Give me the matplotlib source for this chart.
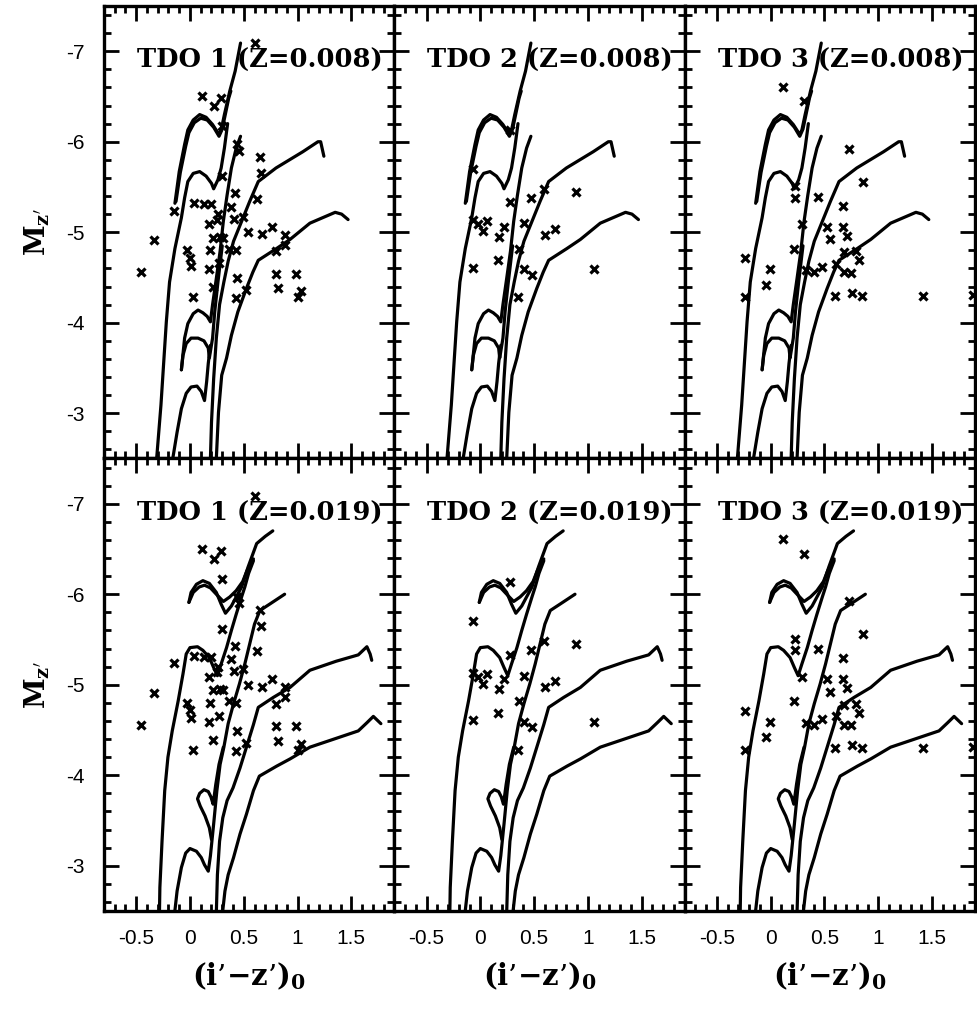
import numpy as np
import matplotlib
matplotlib.use("Agg")
import matplotlib.pyplot as plt
from matplotlib.ticker import MultipleLocator, FormatStrFormatter

plt.rcParams['axes.unicode_minus'] = False
plt.rcParams['mathtext.fontset'] = 'dejavuserif'

# ---- isochrones, Z=0.008 (top row) ----
z008_a_x = [-0.32, -0.31, -0.27, -0.22, -0.19, -0.14, -0.08, -0.05, -0.02, 0.03, 0.09, 0.15, 0.20, 0.22, 0.26, 0.29, 0.32, 0.35]
z008_a_y = [-2.4, -2.5, -3.09, -4.01, -4.45, -4.82, -5.16, -5.38, -5.56, -5.65, -5.67, -5.62, -5.54, -5.48, -5.58, -5.71, -5.93, -6.20]
z008_b1_x = [-0.14, -0.10, -0.05, -0.02, 0.03, 0.09, 0.15, 0.21, 0.27, 0.29, 0.32, 0.37, 0.42, 0.47]
z008_b1_y = [-5.32, -5.67, -5.97, -6.13, -6.24, -6.30, -6.27, -6.19, -6.08, -6.13, -6.30, -6.56, -6.78, -7.09]
z008_b2_x = [-0.13, -0.09, -0.04, -0.01, 0.04, 0.10, 0.16, 0.22, 0.27, 0.30, 0.33, 0.36, 0.38]
z008_b2_y = [-5.34, -5.66, -5.95, -6.10, -6.21, -6.26, -6.24, -6.16, -6.06, -6.14, -6.31, -6.48, -6.56]
z008_c1_x = [-0.08, -0.05, -0.02, 0.03, 0.075, 0.12, 0.16, 0.19, 0.21, 0.245, 0.28, 0.31, 0.345, 0.385, 0.43, 0.47]
z008_c1_y = [-3.48, -3.83, -3.99, -4.10, -4.14, -4.11, -4.07, -4.01, -4.20, -4.49, -4.79, -5.12, -5.41, -5.71, -5.93, -6.06]
z008_c2_x = [-0.08, -0.065, -0.035, 0.01, 0.075, 0.13, 0.17, 0.18, 0.21, 0.23, 0.26, 0.30]
z008_c2_y = [-3.48, -3.64, -3.77, -3.83, -3.83, -3.80, -3.72, -3.61, -3.83, -4.12, -4.45, -4.85]
z008_d_x = [-0.17, -0.16, -0.12, -0.08, -0.035, 0.01, 0.065, 0.105, 0.135, 0.155, 0.17, 0.19]
z008_d_y = [-2.4, -2.5, -2.79, -3.05, -3.22, -3.29, -3.30, -3.24, -3.14, -3.35, -3.55, -3.75]
z008_e_x = [0.188, 0.19, 0.20, 0.22, 0.245, 0.275, 0.315, 0.355, 0.405, 0.48, 0.555, 0.635, 0.80, 1.05, 1.19, 1.215, 1.245]
z008_e_y = [-2.4, -2.5, -2.90, -3.38, -3.83, -4.20, -4.45, -4.68, -4.90, -5.12, -5.34, -5.56, -5.71, -5.89, -6.00, -6.00, -5.84]
z008_f_x = [0.243, 0.245, 0.265, 0.295, 0.34, 0.385, 0.445, 0.525, 0.585, 0.635, 0.805, 0.93, 1.115, 1.35, 1.41, 1.47]
z008_f_y = [-2.4, -2.5, -3.01, -3.42, -3.61, -3.86, -4.12, -4.38, -4.56, -4.69, -4.82, -4.92, -5.10, -5.22, -5.20, -5.14]

# ---- isochrones, Z=0.019 (bottom row) ----
z019_g1_x = [-0.01, 0.01, 0.06, 0.12, 0.18, 0.245, 0.29, 0.33, 0.385, 0.43, 0.48, 0.51, 0.54, 0.58, 0.62, 0.70, 0.77]
z019_g1_y = [-5.91, -6.02, -6.11, -6.15, -6.12, -6.02, -5.89, -5.79, -5.87, -5.97, -6.08, -6.19, -6.30, -6.43, -6.56, -6.64, -6.70]
z019_g2_x = [-0.01, 0.03, 0.085, 0.135, 0.19, 0.245, 0.31, 0.37, 0.43, 0.49, 0.53, 0.59]
z019_g2_y = [-5.91, -6.02, -6.08, -6.10, -6.07, -6.00, -5.92, -5.97, -6.04, -6.14, -6.26, -6.39]
z019_h_x = [-0.285, -0.28, -0.26, -0.235, -0.205, -0.165, -0.11, -0.065, -0.035, 0.0, 0.07, 0.12, 0.18, 0.22, 0.255,
            0.29, 0.34, 0.385, 0.43, 0.48, 0.51, 0.545, 0.59]
z019_h_y = [-2.4, -2.76, -3.27, -3.83, -4.20, -4.49, -4.82, -5.12, -5.34, -5.41, -5.42, -5.38, -5.30, -5.19, -5.10,
            -5.23, -5.41, -5.60, -5.78, -5.97, -6.08, -6.23, -6.37]
z019_i_x = [0.20, 0.18, 0.14, 0.095, 0.07, 0.09, 0.13, 0.17, 0.195, 0.215, 0.24, 0.27, 0.31]
z019_i_y = [-3.29, -3.42, -3.55, -3.66, -3.74, -3.80, -3.84, -3.82, -3.76, -3.68, -3.90, -4.12, -4.31]
z019_j_x = [-0.15, -0.12, -0.08, -0.04, 0.0, 0.06, 0.105, 0.135, 0.17, 0.19, 0.22, 0.25, 0.28, 0.315, 0.355,
            0.405, 0.46, 0.51, 0.555, 0.60, 0.65, 0.74, 0.88]
z019_j_y = [-2.4, -2.72, -2.98, -3.14, -3.19, -3.16, -3.09, -3.01, -2.94, -3.11, -3.46, -3.83, -4.12, -4.31, -4.57,
            -4.79, -5.01, -5.23, -5.45, -5.67, -5.82, -5.89, -6.00]
z019_l_x = [0.243, 0.255, 0.275, 0.305, 0.345, 0.40, 0.465, 0.525, 0.59, 0.635, 0.775, 0.93, 1.115, 1.36, 1.565,
            1.645, 1.675, 1.69]
z019_l_y = [-2.4, -2.90, -3.27, -3.53, -3.72, -3.86, -4.08, -4.31, -4.56, -4.75, -4.86, -4.97, -5.16, -5.26, -5.33,
            -5.42, -5.34, -5.27]
z019_m_x = [0.295, 0.325, 0.355, 0.405, 0.465, 0.525, 0.59, 0.645, 0.805, 0.93, 1.115, 1.365, 1.565, 1.645, 1.705, 1.775]
z019_m_y = [-2.4, -2.72, -2.90, -3.09, -3.35, -3.57, -3.83, -3.99, -4.10, -4.18, -4.31, -4.41, -4.49, -4.58, -4.65, -4.57]

# ---- observed stars per field ----
tdo1_color = [0.60, 0.11, 0.29, 0.22, 0.30, 0.44, 0.46, 0.65, 0.66, 0.30, 0.42, 0.62, -0.15, 0.04, 0.13, 0.20,
              0.385, 0.26, 0.255, 0.41, 0.49, 0.18, 0.76, 0.54, 0.67, 0.885, -0.335, 0.21, 0.28, 0.31, 0.88,
              -0.03, 0.19, 0.36, 0.43, 0.80, 0.0, 0.01, 0.27, -0.46, 0.18, 0.80, 0.99, 0.44, 0.21, 0.82, 0.525,
              1.03, 1.00, 0.03, 0.43]
tdo1_mag = [-7.09, -6.50, -6.48, -6.39, -6.17, -5.97, -5.90, -5.83, -5.65, -5.62, -5.43, -5.37, -5.24, -5.32, -5.31,
            -5.31, -5.28, -5.20, -5.14, -5.15, -5.17, -5.09, -5.06, -5.00, -4.98, -4.97, -4.91, -4.94, -4.95, -4.94,
            -4.86, -4.80, -4.80, -4.82, -4.80, -4.79, -4.72, -4.63, -4.66, -4.56, -4.59, -4.54, -4.54, -4.49, -4.39,
            -4.38, -4.36, -4.35, -4.28, -4.28, -4.27]
tdo2_color = [0.28, -0.07, 0.59, 0.89, 0.47, 0.28, -0.065, -0.02, 0.06, 0.02, 0.22, 0.41, 0.69, 0.60, 0.17, 0.36,
              -0.07, 0.16, 0.41, 0.48, 1.06, 0.35]
tdo2_mag = [-6.13, -5.70, -5.48, -5.45, -5.38, -5.33, -5.13, -5.09, -5.12, -5.01, -5.06, -5.10, -5.04, -4.97, -4.95,
            -4.82, -4.61, -4.69, -4.59, -4.53, -4.59, -4.28]
tdo3_color = [0.115, 0.31, 0.73, 0.86, 0.23, 0.23, 0.44, 0.67, 0.29, 0.52, 0.67, 0.71, 0.55, 0.22, 0.79, 0.68,
              -0.24, 0.82, 0.61, -0.01, 0.33, 0.40, 0.48, 0.68, 0.75, -0.04, -0.24, 0.60, 0.76, 0.85, 1.42, 1.885]
tdo3_mag = [-6.61, -6.45, -5.92, -5.56, -5.51, -5.38, -5.39, -5.29, -5.09, -5.06, -5.06, -4.96, -4.92, -4.82, -4.79,
            -4.78, -4.71, -4.69, -4.65, -4.59, -4.58, -4.56, -4.62, -4.56, -4.55, -4.42, -4.28, -4.30, -4.33, -4.30,
            -4.30, -4.31]

x_ticks = [-0.5, 0, 0.5, 1, 1.5]
y_ticks = [-7, -6, -5, -4, -3]
metallicities = ['0.008', '0.019']
fields = ['TDO 1', 'TDO 2', 'TDO 3']

iso_rows = [
    [(z008_a_x, z008_a_y), (z008_b1_x, z008_b1_y), (z008_b2_x, z008_b2_y), (z008_c1_x, z008_c1_y),
     (z008_c2_x, z008_c2_y), (z008_d_x, z008_d_y), (z008_e_x, z008_e_y), (z008_f_x, z008_f_y)],
    [(z019_g1_x, z019_g1_y), (z019_g2_x, z019_g2_y), (z019_h_x, z019_h_y), (z019_i_x, z019_i_y),
     (z019_j_x, z019_j_y), (z019_l_x, z019_l_y), (z019_m_x, z019_m_y)],
]
stars = [(tdo1_color, tdo1_mag), (tdo2_color, tdo2_mag), (tdo3_color, tdo3_mag)]

fig, axes = plt.subplots(2, 3, figsize=(9.77, 10.13), dpi=100, sharex=True, sharey=True)
fig.subplots_adjust(left=0.1064, right=0.998, top=0.9941, bottom=0.1007, wspace=0, hspace=0)

serif = dict(family='DejaVu Serif', weight='bold')

for r in range(2):
    for c in range(3):
        ax = axes[r, c]
        for xs, ys in iso_rows[r]:
            ax.plot(xs, ys, color='black', lw=2.3, solid_capstyle='round', solid_joinstyle='round')
        sx, sy = stars[c]
        ax.plot(sx, sy, ls='none', marker='x', ms=5.5, mew=2.3, color='black')

        ax.set_xlim(-0.8, 1.9)
        ax.set_ylim(-2.5, -7.5)
        ax.set_xticks(x_ticks)
        ax.set_yticks(y_ticks)
        ax.xaxis.set_minor_locator(MultipleLocator(0.1))
        ax.yaxis.set_minor_locator(MultipleLocator(0.2))
        ax.xaxis.set_major_formatter(FormatStrFormatter('%g'))
        ax.yaxis.set_major_formatter(FormatStrFormatter('%g'))
        ax.tick_params(which='both', direction='in', top=True, right=True, width=2, colors='black')
        ax.tick_params(which='major', length=10.5)
        ax.tick_params(which='minor', length=5)
        ax.tick_params(axis='x', labelsize=15, pad=13)
        ax.tick_params(axis='y', labelsize=15, pad=14)
        for lab in ax.get_xticklabels() + ax.get_yticklabels():
            lab.set_family('Liberation Sans')
        for sp in ax.spines.values():
            sp.set_linewidth(2.4)

        ax.text(0.114, 0.879, f"{fields[c]} (Z={metallicities[r]})", transform=ax.transAxes,
                ha='left', va='center', fontsize=18.5, **serif)

        if c == 0:
            ax.set_ylabel(r"M$_{\mathbf{z'}}$", fontsize=20, labelpad=10, **serif)
        if r == 1:
            ax.set_xlabel("(i\u2019\u2212z\u2019)$_\\mathbf{0}$", fontsize=21, labelpad=9, **serif)

fig.savefig('out.png', dpi=100)
